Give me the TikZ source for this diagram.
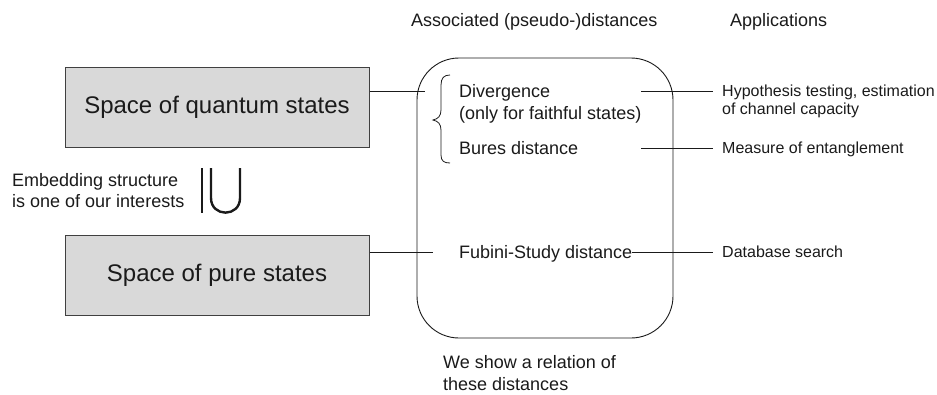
\documentclass[tikz,border=0pt]{standalone}
\usepackage{fontspec}
\setmainfont{Liberation Sans}
\definecolor{boxfill}{HTML}{D9D9D9}
\definecolor{boxline}{HTML}{404040}
\definecolor{ink}{HTML}{1A1A1A}
\begin{document}
\begin{tikzpicture}[x=1pt,y=-1pt,
  spacebox/.style={draw=boxline, line width=1pt, fill=boxfill, minimum width=304pt, minimum height=80pt, inner sep=0pt, font=\fontsize{24}{28}\selectfont, text=ink},
  midtext/.style={anchor=base west, inner sep=0pt, font=\fontsize{18}{21}\selectfont, text=ink, align=left},
  apptext/.style={anchor=base west, inner sep=0pt, font=\fontsize{16}{18}\selectfont, text=ink, align=left},
  conn/.style={draw=ink, line width=0.8pt}]
\useasboundingbox (0,0) rectangle (937,394);

% headings
\node[midtext] (hd1) at (411,26) {Associated (pseudo-)distances};
\node[midtext] (hd2) at (730,26) {Applications};

% left boxes
\node[spacebox] (qs) at (217,107) {Space of quantum states};
\node[spacebox] (ps) at (217,275) {Space of pure states};

% embedding text
\node[midtext] (emb1) at (12,186) {Embedding structure};
\node[midtext] (emb2) at (12,207) {is one of our interests};

% embedding symbol
\draw[ink, line width=2.4pt] (202,168) -- (202,213);
\draw[ink, line width=2.4pt] (211,168) -- (211,198) .. controls (211,217.5) and (240,217.5) .. (240,198) -- (240,168);

% rounded container
\draw[ink, line width=0.9pt, rounded corners=42pt] (417,58) rectangle (673,338);

% brace
\draw[ink, line width=0.8pt] (450,75) .. controls (444,75) and (441,78) .. (441,85) -- (441,110) .. controls (441,116) and (438,119) .. (433,120) .. controls (438,121) and (441,124) .. (441,130) -- (441,155) .. controls (441,161) and (444,163) .. (450,163);

% distances
\node[midtext] (div) at (459,97.5) {Divergence};
\node[midtext] (faith) at (459,119) {(only for faithful states)};
\node[midtext] (bur) at (459,154) {Bures distance};
\node[midtext] (fub) at (459,258) {Fubini-Study distance};

% applications
\node[apptext] (hyp) at (722,96) {Hypothesis testing, estimation};
\node[apptext] (chan) at (722,114) {of channel capacity};
\node[apptext] (ent) at (722,153) {Measure of entanglement};
\node[apptext] (db) at (722,257) {Database search};

% bottom text
\node[midtext] (rel1) at (443,368) {We show a relation of};
\node[midtext] (rel2) at (443,390) {these distances};

% connector end points
\coordinate (qin) at (425,91);
\coordinate (pin) at (433,252);
\coordinate (divout) at (641,91);
\coordinate (burout) at (641,148);
\coordinate (hypin) at (713,91);
\coordinate (entin) at (713,148);
\coordinate (dbin) at (713,252);

\draw[conn] (qs.east |- qin) -- (qin);
\draw[conn] (ps.east |- pin) -- (pin);
\draw[conn] (divout) -- (hypin);
\draw[conn] (burout) -- (entin);
\draw[conn] (fub.east |- dbin) -- (dbin);
\end{tikzpicture}
\end{document}
